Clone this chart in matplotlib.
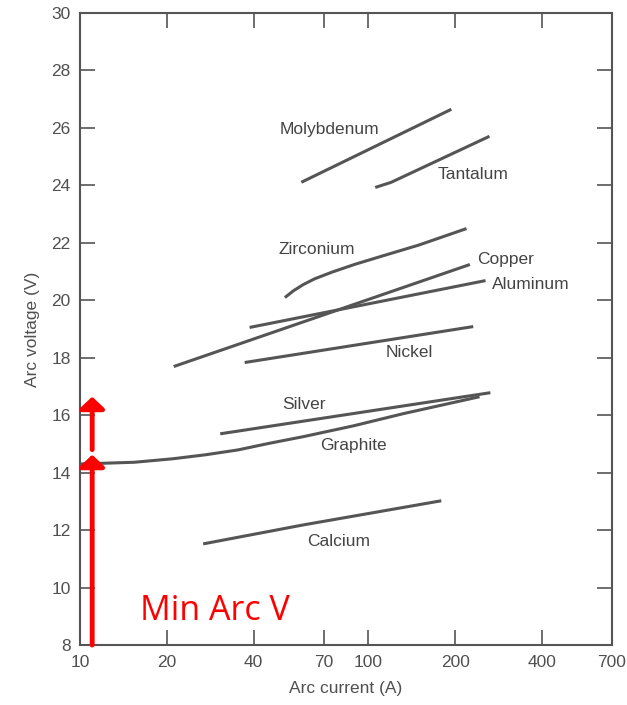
import matplotlib.pyplot as plt
from matplotlib.ticker import NullLocator

# Arc voltage vs arc current for several electrode materials

molybdenum_i = [58.5, 194]
molybdenum_v = [24.1, 26.64]
tantalum_i = [105.6, 120, 263]
tantalum_v = [23.92, 24.1, 25.7]
zirconium_i = [51.3, 55, 59.4, 65, 75, 90, 113, 150, 219]
zirconium_v = [20.09, 20.33, 20.54, 20.74, 20.98, 21.25, 21.55, 21.92, 22.49]
copper_i = [21.1, 225]
copper_v = [17.69, 21.24]
aluminum_i = [38.7, 255]
aluminum_v = [19.05, 20.68]
nickel_i = [37.2, 231]
nickel_v = [17.83, 19.08]
silver_i = [30.6, 265]
silver_v = [15.35, 16.78]
graphite_i = [10.0, 15.4, 20.9, 27.2, 35.3, 45.3, 59.4, 89, 132, 243]
graphite_v = [14.3, 14.36, 14.48, 14.62, 14.79, 15.02, 15.25, 15.63, 16.05, 16.64]
calcium_i = [26.7, 59.4, 179]
calcium_v = [11.52, 12.18, 13.02]

labels = ['Molybdenum', 'Tantalum', 'Zirconium', 'Copper', 'Aluminum',
          'Nickel', 'Silver', 'Graphite', 'Calcium']
label_i = [73, 231, 66, 299, 366, 139, 59.8, 89, 79]
label_v = [25.94, 24.38, 21.76, 21.41, 20.54, 18.17, 16.36, 14.93, 11.62]

x_ticks = [10, 20, 40, 70, 100, 200, 400, 700]
y_ticks = [8, 10, 12, 14, 16, 18, 20, 22, 24, 26, 28, 30]

# red annotation arrows
arrow_i = 11.0
arrow1 = (8.0, 14.62)
arrow2 = (14.8, 16.64)

plt.rcParams['font.family'] = ['Liberation Sans', 'DejaVu Sans']

fig = plt.figure(figsize=(6.27, 7.05), dpi=100)
ax = fig.add_axes([0.128, 0.085, 0.848, 0.897])

grey = '#555555'
series = [(molybdenum_i, molybdenum_v), (tantalum_i, tantalum_v),
          (zirconium_i, zirconium_v), (copper_i, copper_v),
          (aluminum_i, aluminum_v), (nickel_i, nickel_v),
          (silver_i, silver_v), (graphite_i, graphite_v),
          (calcium_i, calcium_v)]
for xs, ys in series:
    ax.plot(xs, ys, color=grey, linewidth=2.2, solid_capstyle='butt')

for name, xi, yi in zip(labels, label_i, label_v):
    ax.text(xi, yi, name, ha='center', va='center', fontsize=12.5, color='#444444')

ax.set_xscale('log')
ax.set_xlim(10, 700)
ax.set_ylim(8, 30)
ax.set_xticks(x_ticks)
ax.set_xticklabels([str(t) for t in x_ticks])
ax.xaxis.set_minor_locator(NullLocator())
ax.set_yticks(y_ticks)

ax.tick_params(direction='in', length=11, width=1.2, color=grey, labelcolor='#505050',
               labelsize=12.5, top=True, right=True, pad=7)
for sp in ax.spines.values():
    sp.set_color(grey)
    sp.set_linewidth(1.5)

ax.set_xlabel('Arc current (A)', fontsize=12.5, color='#505050', labelpad=8)
ax.set_ylabel('Arc voltage (V)', fontsize=12.5, color='#505050', labelpad=8)

for v0, v1 in [arrow1, arrow2]:
    ax.annotate('', xy=(arrow_i, v1), xytext=(arrow_i, v0),
                arrowprops=dict(arrowstyle='-|>,head_length=0.7,head_width=0.75',
                                color='red', linewidth=3.5, shrinkA=0, shrinkB=0))

ax.text(16.1, 8.87, 'Min Arc V', color='red', fontsize=24.5, ha='left', va='baseline',
        family=['Open Sans', 'DejaVu Sans'])

fig.savefig('out.png', dpi=100)
